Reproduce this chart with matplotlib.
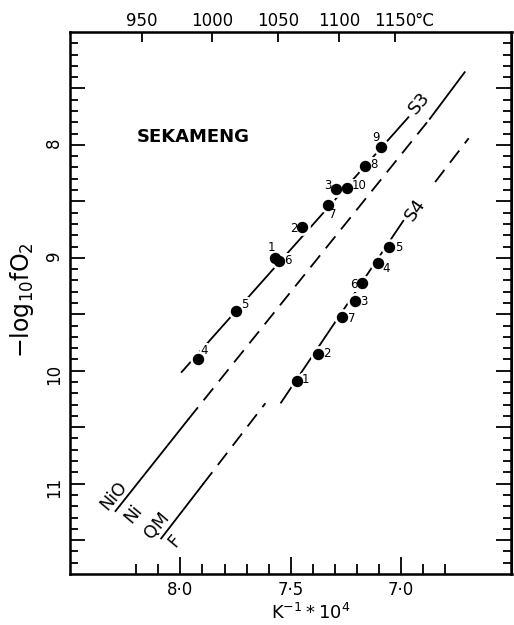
import numpy as np
import matplotlib
matplotlib.use("Agg")
import matplotlib.pyplot as plt
from matplotlib.ticker import FixedLocator, FuncFormatter

# x = 10^4 / T(K), y = -log10 fO2
s3_x = [7.922, 7.746, 7.570, 7.552, 7.450, 7.333, 7.294, 7.247, 7.162, 7.090]
s3_y = [9.892, 9.475, 9.005, 9.032, 8.730, 8.533, 8.391, 8.382, 8.190, 8.021]
s3_lab = ["4", "5", "1", "6", "2", "7", "3", "10", "8", "9"]

s4_x = [7.473, 7.376, 7.267, 7.211, 7.175, 7.103, 7.053]
s4_y = [10.093, 9.851, 9.523, 9.381, 9.227, 9.047, 8.902]
s4_lab = ["1", "2", "7", "3", "6", "4", "5"]

# fitted lines through each sample
s3_fit_x = [7.994, 6.967]
s3_fit_y = [10.011, 7.755]
s4_fit_x = [7.544, 6.990]
s4_fit_y = [10.282, 8.672]

# buffer curves, read as vertices where the line style changes
nno_x = [8.294, 7.964, 6.870, 6.712]
nno_y = [11.243, 10.430, 7.769, 7.356]
nno_style = ["solid", "dashed", "solid"]
qfm_x = [8.087, 7.898, 7.615, 6.846, 6.694]
qfm_y = [11.485, 11.006, 10.288, 8.329, 7.941]
qfm_style = ["solid", "dashed", None, "dashed"]

temps_c = [950, 1000, 1050, 1100, 1150]

# label offsets in points (dx, dy)
s3_off = {"4": (4.5, 6), "5": (6, 5), "1": (-3, 7.5), "6": (6.5, 1), "2": (-5.5, -1),
          "7": (3.5, -6.5), "3": (-6, 2.5), "10": (9, 1.5), "8": (6, 1.5), "9": (-4, 7)}
s4_off = {"1": (6, 1), "2": (6.5, 0.5), "7": (7, -1), "3": (6.5, -0.5), "6": (-6.5, -1),
          "4": (5.5, -4), "5": (7, -0.5)}

plt.rcParams['font.family'] = ['DejaVu Sans']
DASH = (0, (8.5, 5.0))
LW = 1.3

fig = plt.figure(figsize=(5.14, 6.25), dpi=100)
ax = fig.add_axes([70 / 514, 51 / 625, (511.5 - 70) / 514, (574 - 32) / 625])
ax.set_xlim(8.5, 6.5)
ax.set_ylim(11.8, 7.0)


def draw_segments(xs, ys, styles):
    for i, st in enumerate(styles):
        if st is None:
            continue
        ls = "-" if st == "solid" else DASH
        ax.plot(xs[i:i + 2], ys[i:i + 2], color="black", lw=LW, ls=ls, zorder=2)


draw_segments(nno_x, nno_y, nno_style)
draw_segments(qfm_x, qfm_y, qfm_style)

ax.plot(s3_fit_x, s3_fit_y, color="black", lw=LW, zorder=2)
ax.plot(s4_fit_x, s4_fit_y, color="black", lw=LW, zorder=2)

# white halos break the fit lines around points
ax.plot(s3_x + s4_x, s3_y + s4_y, "o", ms=11, color="white", zorder=3)
ax.plot(s3_x + s4_x, s3_y + s4_y, "o", ms=7.2, color="black", zorder=5)

box = dict(boxstyle="square,pad=0.05", fc="white", ec="none")
for x, y, lab in zip(s3_x, s3_y, s3_lab):
    ax.annotate(lab, (x, y), xytext=s3_off[lab], textcoords="offset points",
                ha="center", va="center", fontsize=8.5, bbox=box, zorder=4)
for x, y, lab in zip(s4_x, s4_y, s4_lab):
    ax.annotate(lab, (x, y), xytext=s4_off[lab], textcoords="offset points",
                ha="center", va="center", fontsize=8.5, bbox=box, zorder=4)

ax.text(6.915, 7.625, "S3", rotation=50, ha="center", va="center", fontsize=13)
ax.text(6.937, 8.577, "S4", rotation=55, ha="center", va="center", fontsize=13)

ax.text(8.303, 11.109, "NiO", rotation=50, ha="center", va="center", fontsize=12.5)
ax.text(8.213, 11.270, "Ni", rotation=50, ha="center", va="center", fontsize=12.5)
ax.text(8.106, 11.374, "QM", rotation=50, ha="center", va="center", fontsize=12.5)
ax.text(8.024, 11.508, "F", rotation=50, ha="center", va="center", fontsize=12.5)

ax.text(7.941, 7.93, "SEKAMENG", ha="center", va="center", fontsize=13, fontweight="bold")

# bottom axis
ax.xaxis.set_major_locator(FixedLocator([8.0, 7.5, 7.0]))
ax.xaxis.set_major_formatter(FuncFormatter(lambda v, p: f"{v:.1f}".replace(".", "\u00b7")))
ax.xaxis.set_minor_locator(FixedLocator(np.round(np.arange(6.8, 8.25, 0.1), 1)))

# left / right axis
ax.yaxis.set_major_locator(FixedLocator(np.arange(7.5, 11.6, 0.5)))
ax.yaxis.set_major_formatter(FuncFormatter(lambda v, p: f"{int(v)}" if v == int(v) else ""))
ax.yaxis.set_minor_locator(FixedLocator(np.round(np.arange(7.1, 11.75, 0.1), 1)))

ax.tick_params(which="both", direction="in", top=False, right=True, width=1.3, labelsize=12)
ax.tick_params(axis="x", which="major", length=12, pad=5)
ax.tick_params(axis="x", which="minor", length=7)
ax.tick_params(axis="y", which="major", length=10.8, pad=5, labelrotation=90)
ax.tick_params(axis="y", which="minor", length=5.8)
for sp in ax.spines.values():
    sp.set_linewidth(1.8)

# top axis in degrees C
ax2 = ax.twiny()
ax2.set_xlim(ax.get_xlim())
top_pos = [1e4 / (t + 273.15) for t in temps_c]
ax2.set_xticks(top_pos)
ax2.set_xticklabels([str(t) for t in temps_c])
ax2.tick_params(axis="x", direction="in", length=7, width=1.3, pad=1.5, labelsize=12)
ax2.xaxis.set_minor_locator(FixedLocator([]))
ax2.annotate("\u00b0C", xy=(top_pos[-1], 1.0), xycoords=ax2.get_xaxis_transform(),
             xytext=(14, 1.5), textcoords="offset points", ha="left", va="bottom",
             fontsize=12)

fig.text(21.7 / 514, 0.52, r"$\mathregular{-log_{10}fO_2}$", rotation=90,
         ha="center", va="center", fontsize=17)
fig.text(311 / 514, 0.02, r"$\mathregular{K^{-1} * 10^4}$", ha="center", va="center",
         fontsize=13)

fig.savefig("out.png", dpi=100)
